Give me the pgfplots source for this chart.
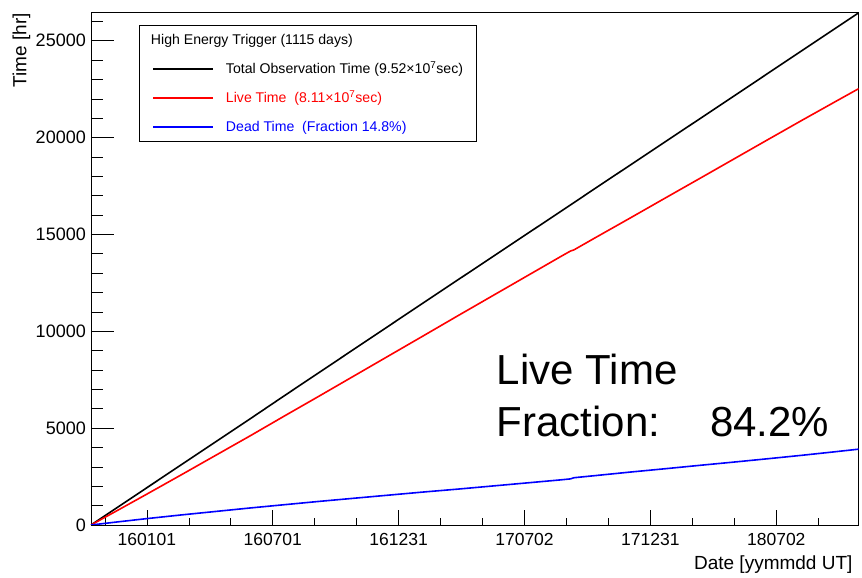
\documentclass[border=0pt]{standalone}
\usepackage{pgfplots}
\usepackage{pgfplotstable}
\pgfplotsset{compat=1.18}
\usepackage{fontspec}
\setmainfont{Liberation Sans}

\pgfplotstableread{
t     black  red    blue
0     0      0      0
41    974    804    170
81    1925   1595   330
131   3113   2593   520
181   4301   3601   700
231   5489   4609   880
281   6690   5640   1050
331   7880   6660   1220
381   9070   7690   1380
431   10260  8720   1540
481   11450  9750   1700
531   12635  10785  1850
581   13820  11810  2010
631   15005  12835  2170
681   16190  13860  2330
695   16522  14142  2380
700   16641  14201  2440
731   17380  14830  2550
781   18565  15835  2730
831   19750  16850  2900
881   20935  17860  3075
931   22120  18875  3245
981   23310  19890  3420
1031  24500  20900  3600
1081  25685  21895  3790
1113  26444  22528  3916
}\timedata

\begin{document}
\begin{tikzpicture}
\useasboundingbox (-91pt,-53pt) rectangle (771pt,525pt);
\begin{axis}[
  scale only axis, width=767.7pt, height=512.3pt,
  at={(0,0)}, anchor=south west,
  xmin=0, xmax=1113, ymin=0, ymax=26450,
  scaled ticks=false,
  axis line style={line width=0.8pt},
  xtick={81,263.5,446,628.5,811,993.5},
  xticklabels={160101,160701,161231,170702,171231,180702},
  minor xtick={20.2,142,202.7,324.3,385.2,506.8,567.7,689.3,750.2,871.8,932.7,1054.3},
  ytick={0,5000,10000,15000,20000,25000},
  yticklabels={0,5000,10000,15000,20000,25000},
  minor ytick={1000,2000,3000,4000,6000,7000,8000,9000,11000,12000,13000,14000,16000,17000,18000,19000,21000,22000,23000,24000,26000},
  tick align=inside,
  xtick pos=bottom, ytick pos=left,
  major tick length=23pt, minor tick length=12pt,
  xtick style={/pgfplots/major tick length=15pt, /pgfplots/minor tick length=7pt},
  tick style={line width=0.7pt, black},
  xticklabel style={font=\fontsize{17.5}{20}\selectfont, anchor=base, yshift=-20.5pt},
  yticklabel style={font=\fontsize{18}{20}\selectfont, anchor=east, inner xsep=0pt, xshift=-5pt},
  xlabel={Date [yymmdd UT]},
  xlabel style={font=\fontsize{19}{22}\selectfont, at={(rel axis cs:1,0)}, anchor=base east, yshift=-45pt, xshift=-2.7pt},
  legend image code/.code={\draw[#1] (0pt,0pt) -- (60pt,0pt);},
  legend style={at={(rel axis cs:0.0625,0.976)}, anchor=north west,
    font=\fontsize{14.1}{16}\selectfont, draw=black, line width=0.8pt,
    inner xsep=13pt, inner ysep=6pt, row sep=12pt, column sep=12pt,
    nodes={inner sep=0pt, text height=13pt, text depth=4pt}},
  legend cell align=left,
]
\addlegendimage{empty legend}
\addlegendentry{\hspace{-75pt}High Energy Trigger (1115 days)}
\addplot[black, line width=1.6pt] table[x=t, y=black] {\timedata};
\addlegendentry{Total Observation Time (9.52×10\textsuperscript{7}sec)}
\addplot[red, line width=1.6pt] table[x=t, y=red] {\timedata};
\addlegendentry{\textcolor{red}{Live Time\ \ (8.11×10\textsuperscript{7}sec)}}
\addplot[blue, line width=1.6pt] table[x=t, y=blue] {\timedata};
\addlegendentry{\textcolor{blue}{Dead Time\ \ (Fraction 14.8\%)}}
\node[anchor=base west, font=\fontsize{42}{50}\selectfont, inner sep=0pt] at (rel axis cs:0.5285,0.2733) {Live Time};
\node[anchor=base west, font=\fontsize{42}{50}\selectfont, inner sep=0pt] at (rel axis cs:0.5285,0.1724) {Fraction:};
\node[anchor=base west, font=\fontsize{42}{50}\selectfont, inner sep=0pt] at (rel axis cs:0.8063,0.1724) {84.2\%};
\end{axis}
\node[font=\fontsize{19}{22}\selectfont, inner sep=0pt, anchor=base east, rotate=90] at (-64.7pt,512.3pt) {Time [hr]};
\end{tikzpicture}
\end{document}
